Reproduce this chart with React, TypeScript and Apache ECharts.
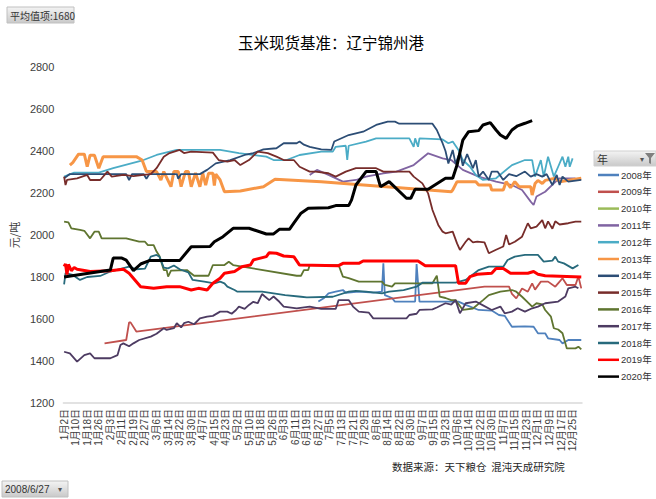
import React, { useEffect, useRef } from "react";
import * as echarts from "echarts";

const MONTH_DAYS = [31, 29, 31, 30, 31, 30, 31, 31, 30, 31, 30, 31];
const SKIPPED_DAYS = ["1/1", "5/1", "10/1", "10/2", "10/3", "10/4", "10/5"];
const YEARS = ["2008年", "2009年", "2010年", "2011年", "2012年", "2013年", "2014年", "2015年", "2016年", "2017年", "2018年", "2019年", "2020年"];
const COLORS = ["#4f81bd", "#c0504d", "#9bbb59", "#8064a2", "#4bacc6", "#f79646", "#2c4d75", "#772c2a", "#5f7530", "#4d3b62", "#276a7c", "#ff0000", "#000000"];
const WIDTHS = [1.8, 1.8, 3, 1.8, 1.8, 3, 1.8, 1.8, 1.8, 1.8, 1.8, 3, 3];

type P = [string, number];

const s2008: P[] = [["6/27",1683],["7/1",1700],["7/4",1722],["7/9",1730],["7/14",1738],["7/16",1725],["7/25",1730],["8/4",1726],["8/10",1730],["8/11",1865],["8/12",1714],["8/17",1700],["8/19",1683],["9/2",1683],["9/3",1862],["9/5",1683],["9/27",1683],["10/7",1683],["10/12",1667],["10/21",1643],["10/30",1640],["11/4",1619],["11/8",1615],["11/13",1563],["11/22",1565],["11/28",1563],["12/1",1532],["12/6",1532],["12/8",1508],["12/16",1500],["12/18",1484],["12/22",1500],["12/31",1500]];
const s2009: P[] = [["1/30",1484],["2/14",1500],["2/16",1584],["2/17",1584],["2/21",1540],["10/25",1754],["11/11",1754],["11/13",1720],["11/16",1698],["11/20",1745],["11/24",1730],["11/27",1770],["11/29",1740],["12/3",1778],["12/8",1778],["12/13",1754],["12/16",1778],["12/18",1794],["12/21",1762],["12/27",1762],["12/29",1802],["12/31",1746]];
const s2010: P[] = [];
const s2011: P[] = [["6/21",2286],["6/26",2310],["7/4",2286],["7/14",2254],["7/23",2262],["7/30",2278],["8/11",2294],["8/20",2302],["9/1",2333],["9/11",2389],["9/21",2365],["9/27",2357],["10/10",2310],["10/21",2278],["11/2",2254],["11/13",2238],["11/20",2214],["11/26",2159],["11/28",2143],["11/30",2183],["12/6",2206],["12/12",2246],["12/16",2270],["12/27",2270]];
const s2012: P[] = [["1/2",2278],["1/9",2297],["1/26",2297],["2/5",2318],["2/26",2357],["3/6",2381],["3/20",2405],["4/19",2405],["5/3",2390],["5/22",2373],["5/27",2357],["6/5",2357],["6/14",2381],["6/29",2397],["7/7",2397],["7/9",2420],["7/16",2425],["7/17",2357],["7/18",2425],["7/30",2445],["8/6",2460],["8/29",2460],["9/1",2420],["9/2",2460],["9/4",2420],["9/5",2460],["9/21",2455],["9/25",2437],["9/28",2445],["10/7",2405],["10/10",2357],["10/15",2325],["10/19",2286],["10/24",2262],["11/2",2270],["11/13",2333],["11/22",2357],["11/27",2357],["11/29",2278],["12/3",2357],["12/5",2278],["12/8",2373],["12/12",2278],["12/15",2325],["12/18",2373],["12/20",2325],["12/22",2373],["12/23",2325],["12/25",2365]];
const s2013: P[] = [["1/6",2333],["1/8",2345],["1/12",2385],["1/16",2385],["1/18",2325],["1/20",2380],["1/23",2380],["1/26",2318],["1/29",2373],["2/21",2373],["2/25",2357],["2/28",2302],["3/6",2302],["3/9",2262],["3/11",2302],["3/16",2230],["3/18",2302],["3/21",2302],["3/23",2230],["3/26",2302],["3/28",2302],["3/30",2230],["4/2",2296],["4/5",2230],["4/7",2294],["4/9",2238],["4/11",2294],["4/14",2294],["4/15",2235],["4/16",2290],["4/19",2262],["4/22",2206],["5/4",2210],["5/20",2230],["5/28",2265],["6/29",2254],["9/27",2206],["9/28",2214],["10/6",2254],["10/19",2254],["10/21",2238],["10/29",2238],["10/30",2214],["11/7",2214],["11/9",2254],["11/12",2225],["11/15",2254],["11/18",2230],["11/26",2230],["11/27",2190],["11/29",2245],["12/1",2260],["12/4",2245],["12/6",2260],["12/13",2270],["12/16",2254],["12/31",2270]];
const s2014: P[] = [["1/2",2270],["1/6",2290],["2/14",2290],["2/16",2262],["2/18",2290],["2/26",2290],["2/28",2268],["3/1",2290],["3/20",2290],["3/21",2268],["3/23",2290],["4/5",2290],["4/10",2310],["4/16",2341],["4/26",2357],["5/7",2381],["5/13",2390],["5/20",2408],["5/29",2413],["6/3",2437],["6/12",2437],["6/14",2445],["6/17",2430],["6/21",2420],["6/29",2408],["7/6",2405],["7/8",2445],["7/18",2476],["7/28",2492],["8/6",2524],["8/14",2540],["8/19",2540],["8/22",2530],["9/14",2530],["9/17",2500],["9/21",2437],["9/23",2400],["9/25",2340],["9/28",2405],["9/30",2340],["10/8",2395],["10/10",2330],["10/13",2385],["10/17",2318],["10/19",2357],["10/21",2278],["10/24",2302],["10/28",2262],["10/30",2302],["11/3",2302],["11/7",2262],["11/11",2290],["11/16",2280],["11/22",2302],["11/26",2278],["11/30",2290],["12/4",2278],["12/7",2290],["12/11",2238],["12/14",2286],["12/16",2238],["12/18",2278],["12/22",2254],["12/31",2262]];
const s2015: P[] = [["1/2",2278],["1/3",2238],["1/4",2262],["1/11",2270],["1/18",2286],["1/20",2262],["1/27",2262],["2/1",2302],["2/4",2278],["2/12",2286],["2/19",2280],["2/26",2286],["3/2",2290],["3/6",2318],["3/11",2373],["3/15",2390],["3/22",2405],["3/25",2390],["3/30",2397],["4/14",2392],["4/18",2357],["4/24",2349],["4/29",2357],["5/4",2333],["5/10",2357],["5/16",2397],["5/23",2390],["5/29",2373],["6/3",2357],["6/10",2357],["6/14",2325],["6/21",2302],["6/25",2302],["7/4",2294],["7/9",2278],["7/16",2302],["7/23",2318],["8/6",2318],["8/11",2302],["8/29",2302],["9/1",2278],["9/7",2246],["9/11",2198],["9/14",2119],["9/18",2048],["9/21",2016],["9/23",2008],["9/28",2016],["10/6",1960],["10/8",1929],["10/12",1968],["10/14",1984],["10/17",1965],["10/20",1968],["10/25",1965],["10/28",1913],["11/2",1930],["11/7",1945],["11/9",2000],["11/11",1955],["11/15",1968],["11/20",1992],["11/24",2056],["11/26",2032],["11/30",2040],["12/4",2071],["12/6",2032],["12/8",2065],["12/11",2030],["12/13",2065],["12/16",2050],["12/22",2056],["12/27",2064],["12/31",2064]];
const s2016: P[] = [["1/2",2064],["1/5",2060],["1/7",2032],["1/13",2024],["1/16",2020],["1/20",1984],["1/23",2016],["1/26",2016],["1/28",1984],["2/14",1984],["2/23",1968],["2/27",1968],["2/29",1952],["3/4",1952],["3/6",1921],["3/8",1900],["3/11",1833],["3/13",1833],["3/14",1802],["3/16",1830],["3/27",1833],["4/1",1806],["4/11",1806],["4/14",1857],["4/22",1857],["4/25",1873],["4/28",1857],["6/12",1806],["6/15",1806],["6/17",1833],["6/20",1833],["6/21",1857],["7/11",1857],["7/14",1802],["7/18",1795],["7/25",1778],["8/10",1778],["8/12",1762],["8/17",1754],["8/19",1770],["9/14",1770],["9/17",1806],["9/19",1706],["9/23",1700],["9/27",1690],["9/30",1690],["10/10",1643],["10/17",1650],["10/24",1690],["10/28",1714],["11/5",1730],["11/13",1738],["11/16",1730],["11/20",1706],["11/27",1659],["11/30",1675],["12/4",1670],["12/6",1643],["12/10",1611],["12/12",1556],["12/15",1550],["12/18",1532],["12/21",1460],["12/27",1460],["12/29",1468],["12/31",1455]];
const s2017: P[] = [["1/2",1444],["1/6",1436],["1/11",1397],["1/16",1428],["1/20",1436],["1/23",1413],["2/3",1413],["2/8",1428],["2/10",1476],["2/12",1484],["2/16",1470],["2/19",1484],["2/23",1500],["3/2",1516],["3/6",1530],["3/11",1556],["3/13",1548],["3/18",1556],["3/20",1580],["3/23",1560],["3/25",1580],["3/28",1587],["4/1",1575],["4/5",1603],["4/10",1611],["4/14",1615],["4/19",1635],["4/24",1635],["4/27",1625],["4/30",1643],["5/3",1659],["5/7",1648],["5/10",1667],["5/13",1682],["5/16",1675],["5/19",1719],["5/21",1707],["5/24",1690],["5/27",1707],["5/31",1682],["6/3",1659],["6/12",1651],["6/21",1659],["6/29",1648],["7/9",1648],["7/11",1690],["7/18",1690],["7/21",1659],["7/25",1635],["8/1",1630],["8/4",1603],["8/27",1603],["8/29",1619],["9/3",1625],["9/5",1643],["9/14",1646],["9/17",1655],["9/23",1675],["9/27",1668],["9/30",1690],["10/8",1627],["10/12",1675],["10/19",1683],["10/24",1665],["10/30",1643],["11/5",1659],["11/8",1627],["11/13",1635],["11/17",1651],["11/22",1635],["11/27",1651],["12/1",1659],["12/6",1675],["12/15",1683],["12/20",1707],["12/22",1746],["12/27",1754],["12/29",1746]];
const s2018: P[] = [["1/2",1765],["1/3",1818],["1/8",1810],["1/13",1786],["1/18",1800],["1/27",1805],["2/3",1826],["2/16",1849],["2/21",1837],["2/27",1840],["3/2",1897],["3/6",1905],["3/8",1897],["3/11",1845],["3/14",1841],["3/18",1855],["3/22",1837],["3/28",1822],["3/31",1786],["4/8",1778],["4/15",1770],["4/19",1778],["4/22",1770],["4/24",1754],["4/29",1738],["5/2",1730],["5/19",1730],["6/4",1714],["6/15",1706],["6/19",1703],["7/7",1706],["7/18",1730],["7/23",1734],["7/30",1730],["8/10",1722],["8/15",1730],["8/25",1738],["9/3",1754],["9/7",1773],["9/30",1773],["10/12",1786],["10/21",1833],["10/28",1849],["11/7",1849],["11/10",1881],["11/15",1897],["11/22",1905],["12/1",1905],["12/5",1873],["12/11",1878],["12/13",1897],["12/15",1873],["12/19",1865],["12/25",1841],["12/29",1857]];
const s2019: P[] = [["1/2",1850],["1/3",1862],["1/4",1812],["1/5",1860],["1/7",1830],["1/9",1845],["1/11",1837],["1/20",1826],["2/3",1830],["2/12",1837],["2/16",1818],["2/24",1754],["3/4",1746],["3/13",1754],["3/22",1754],["3/30",1738],["4/4",1746],["4/10",1738],["4/14",1770],["4/19",1794],["4/22",1818],["4/29",1826],["5/5",1849],["5/11",1857],["5/13",1881],["5/22",1897],["5/24",1916],["5/29",1913],["6/3",1900],["6/10",1897],["6/14",1857],["7/11",1854],["7/14",1865],["7/25",1865],["7/28",1876],["9/4",1876],["9/9",1854],["9/30",1854],["10/7",1770],["10/12",1770],["10/15",1802],["10/20",1813],["10/30",1818],["11/2",1841],["11/7",1841],["11/12",1818],["11/24",1818],["11/28",1826],["12/1",1813],["12/6",1806],["12/31",1800]];
const s2020: P[] = [["1/2",1800],["1/11",1810],["2/3",1833],["2/5",1890],["2/11",1890],["2/14",1880],["2/19",1830],["2/24",1862],["3/1",1878],["3/22",1878],["3/30",1944],["4/12",1945],["4/15",1968],["4/21",1992],["4/28",2032],["5/10",2032],["5/22",2005],["5/27",2005],["5/31",2027],["6/7",2027],["6/10",2056],["6/15",2104],["6/20",2127],["7/4",2130],["7/9",2140],["7/18",2140],["7/20",2167],["7/23",2238],["7/30",2302],["8/6",2302],["8/9",2230],["8/15",2254],["8/27",2175],["8/30",2175],["9/2",2218],["9/11",2218],["9/23",2270],["9/28",2270],["10/6",2333],["10/10",2452],["10/14",2492],["10/21",2497],["10/24",2524],["10/29",2535],["11/2",2500],["11/5",2476],["11/9",2460],["11/13",2500],["11/17",2520],["11/22",2532],["11/27",2545]];

const SERIES_DATA = [s2008, s2009, s2010, s2011, s2012, s2013, s2014, s2015, s2016, s2017, s2018, s2019, s2020];

const CATEGORIES: string[] = [];
MONTH_DAYS.forEach((n, mi) => {
  for (let d = 1; d <= n; d++) {
    const key = `${mi + 1}/${d}`;
    if (SKIPPED_DAYS.indexOf(key) >= 0) continue;
    CATEGORIES.push(`${mi + 1}月${d}日`);
  }
});
const toCat = (k: string) => {
  const [m, d] = k.split("/");
  return `${m}月${d}日`;
};

const FONT = "'Liberation Sans', 'Noto Sans CJK SC', sans-serif";
const CJK = "'Noto Sans CJK SC', sans-serif";

export default function App() {
  const ref = useRef<HTMLDivElement>(null);
  useEffect(() => {
    if (!ref.current) return;
    const chart = echarts.init(ref.current, undefined, { renderer: "svg" });
    const grad = () =>
      new echarts.graphic.LinearGradient(0, 0, 0, 1, [
        { offset: 0, color: "#f4f4f4" },
        { offset: 1, color: "#c9c9c9" },
      ]);
    chart.setOption({
      animation: false,
      backgroundColor: "#ffffff",
      textStyle: { fontFamily: FONT },
      grid: { left: 60, right: 74, top: 67, bottom: 96 },
      xAxis: {
        type: "category",
        data: CATEGORIES,
        boundaryGap: true,
        axisLine: { show: true, lineStyle: { color: "#d9d9d9", width: 1.5 } },
        axisTick: { show: false },
        splitLine: { show: false },
        axisLabel: { interval: 7, rotate: 90, fontSize: 10, color: "#404040", margin: 6, fontFamily: FONT },
      },
      yAxis: {
        type: "value",
        min: 1200,
        max: 2800,
        interval: 200,
        name: "元/吨",
        nameLocation: "middle",
        nameGap: 28,
        nameTextStyle: { fontSize: 11, color: "#404040", fontFamily: CJK },
        axisLine: { show: false },
        axisTick: { show: false },
        splitLine: { show: false },
        axisLabel: { fontSize: 11, color: "#404040", margin: 9, fontFamily: FONT, formatter: (v: number) => String(v) },
      },
      legend: {
        orient: "vertical",
        left: 598,
        top: 169,
        padding: 0,
        itemWidth: 21,
        itemHeight: 2.5,
        itemGap: 4.8,
        icon: "rect",
        textStyle: { fontSize: 9.5, color: "#333333", lineHeight: 12, fontFamily: FONT, padding: [0, 0, 0, -3] },
        data: YEARS,
      },
      series: YEARS.map((name, i) => ({
        name,
        type: "line",
        symbol: "none",
        showSymbol: false,
        color: COLORS[i],
        lineStyle: { color: COLORS[i], width: WIDTHS[i] },
        data: SERIES_DATA[i].map(([k, v]) => [toCat(k), v]),
        z: 2 + i,
      })),
      graphic: [
        { type: "rect", shape: { x: 7, y: 7, width: 67, height: 16 }, style: { fill: grad(), stroke: "#c0c0c0", lineWidth: 1 } },
        { type: "text", x: 10, y: 15, style: { text: "平均值项:1680", fontSize: 10, fill: "#333333", fontFamily: CJK, textVerticalAlign: "middle" } },
        { type: "rect", shape: { x: 2, y: 481, width: 66, height: 16 }, style: { fill: grad(), stroke: "#c0c0c0", lineWidth: 1 } },
        { type: "text", x: 5, y: 489, style: { text: "2008/6/27", fontSize: 10, fill: "#333333", fontFamily: FONT, textVerticalAlign: "middle" } },
        { type: "text", x: 58, y: 489, style: { text: "▾", fontSize: 8, fill: "#555555", fontFamily: FONT, textVerticalAlign: "middle" } },
        { type: "rect", shape: { x: 594, y: 151, width: 62, height: 15 }, style: { fill: grad(), stroke: "#d0d0d0", lineWidth: 1 } },
        { type: "text", x: 597, y: 158.5, style: { text: "年", fontSize: 11, fill: "#333333", fontFamily: CJK, textVerticalAlign: "middle" } },
        { type: "text", x: 640, y: 159, style: { text: "▾", fontSize: 8, fill: "#555555", fontFamily: FONT, textVerticalAlign: "middle" } },
        { type: "polygon", shape: { points: [[645, 153], [655, 153], [651, 158], [651, 164], [649, 163], [649, 158]] }, style: { fill: "#7f7f7f" } },
        { type: "text", x: 331, y: 42, style: { text: "玉米现货基准：辽宁锦州港", fontSize: 15.5, fill: "#000000", fontFamily: CJK, textAlign: "center", textVerticalAlign: "middle" } },
        { type: "text", x: 392, y: 466, style: { text: "数据来源：天下粮仓  混沌天成研究院", fontSize: 10.5, fill: "#262626", fontFamily: CJK, textVerticalAlign: "middle" } },
      ],
    });
    return () => chart.dispose();
  }, []);
  return <div ref={ref} style={{ position: "fixed", left: 0, top: 0, width: 656, height: 499, background: "#fff" }} />;
}
